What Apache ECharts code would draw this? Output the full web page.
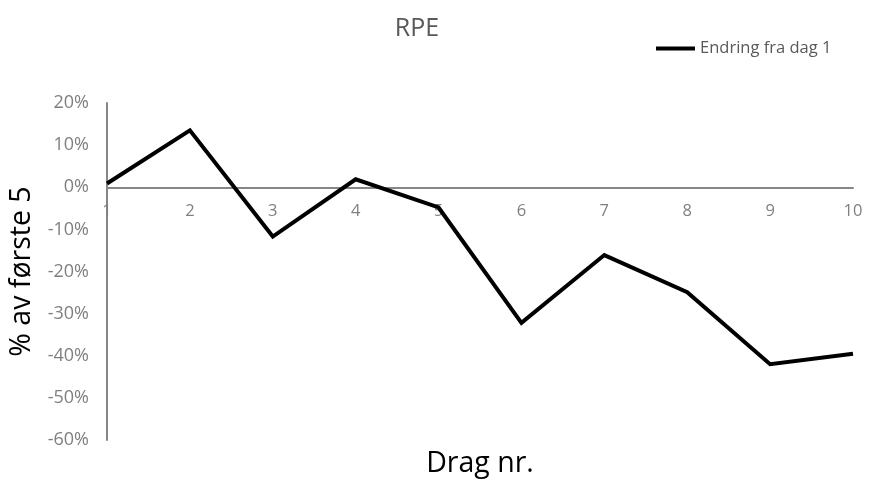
<!DOCTYPE html>
<html>
<head>
<meta charset="utf-8">
<script src="https://cdn.jsdelivr.net/npm/echarts@6/dist/echarts.min.js"></script>
<style>
  html, body { margin: 0; padding: 0; background: #ffffff; }
  #chart { width: 869px; height: 487px; }
</style>
</head>
<body>
<div id="chart"></div>
<script>
// Drag number (x categories)
const categories = ['1', '2', '3', '4', '5', '6', '7', '8', '9', '10'];
// Change from day 1, in percent
const endringFraDag1 = [0.9, 13.5, -11.7, 1.9, -4.8, -32.2, -16.1, -24.9, -42.0, -39.5];
// Y axis range and step, in percent
const yMin = -60;
const yMax = 20;
const yStep = 10;

const font = "'Open Sans', 'Noto Sans', sans-serif";
const gridTop = 103;
const gridBottom = 47;
const plotHeight = 487 - gridTop - gridBottom;
// shift the category axis up from the plot bottom to the 0 % line
const zeroOffset = -plotHeight * (0 - yMin) / (yMax - yMin);

const chart = echarts.init(document.getElementById('chart'), null, { renderer: 'canvas' });

chart.setOption({
  animation: false,
  backgroundColor: '#ffffff',
  textStyle: { fontFamily: font },
  title: {
    text: 'RPE',
    left: 412,
    top: 11,
    textAlign: 'center',
    textStyle: { fontFamily: font, fontSize: 25, fontWeight: 'normal', color: '#595959' }
  },
  legend: {
    left: 651,
    top: 35,
    icon: 'rect',
    itemWidth: 39,
    itemHeight: 4,
    itemGap: 4,
    textStyle: { fontFamily: font, fontSize: 16.5, color: '#595959' },
    data: ['Endring fra dag 1']
  },
  grid: { left: 107, right: 16, top: gridTop, bottom: gridBottom, containLabel: false, outerBoundsMode: 'none' },
  xAxis: {
    type: 'category',
    data: categories,
    boundaryGap: false,
    position: 'bottom',
    offset: zeroOffset,
    z: 1,
    name: 'Drag nr.',
    nameLocation: 'middle',
    nameGap: 262,
    nameTextStyle: { fontFamily: font, fontSize: 28.5, color: '#000000' },
    axisLine: { onZero: false, lineStyle: { color: '#868686', width: 2 } },
    axisTick: { show: false },
    axisLabel: {
      color: '#7f7f7f', fontSize: 16.5, fontFamily: font, margin: 16,
      interval: 0, showMinLabel: true, showMaxLabel: true, hideOverlap: false
    },
    splitLine: { show: false }
  },
  yAxis: {
    type: 'value',
    min: yMin,
    max: yMax,
    interval: yStep,
    z: 0,
    name: '% av første 5',
    nameLocation: 'middle',
    nameGap: 68,
    nameTextStyle: { fontFamily: font, fontSize: 28.5, color: '#000000' },
    axisLine: { show: true, lineStyle: { color: '#868686', width: 2 } },
    axisTick: { show: false },
    axisLabel: {
      color: '#7f7f7f', fontSize: 18, fontFamily: font, margin: 18,
      formatter: v => v + '%'
    },
    splitLine: { show: false }
  },
  series: [{
    name: 'Endring fra dag 1',
    type: 'line',
    data: endringFraDag1,
    symbol: 'none',
    lineStyle: { color: '#000000', width: 4, join: 'miter' },
    itemStyle: { color: '#000000' }
  }]
});
</script>
</body>
</html>
